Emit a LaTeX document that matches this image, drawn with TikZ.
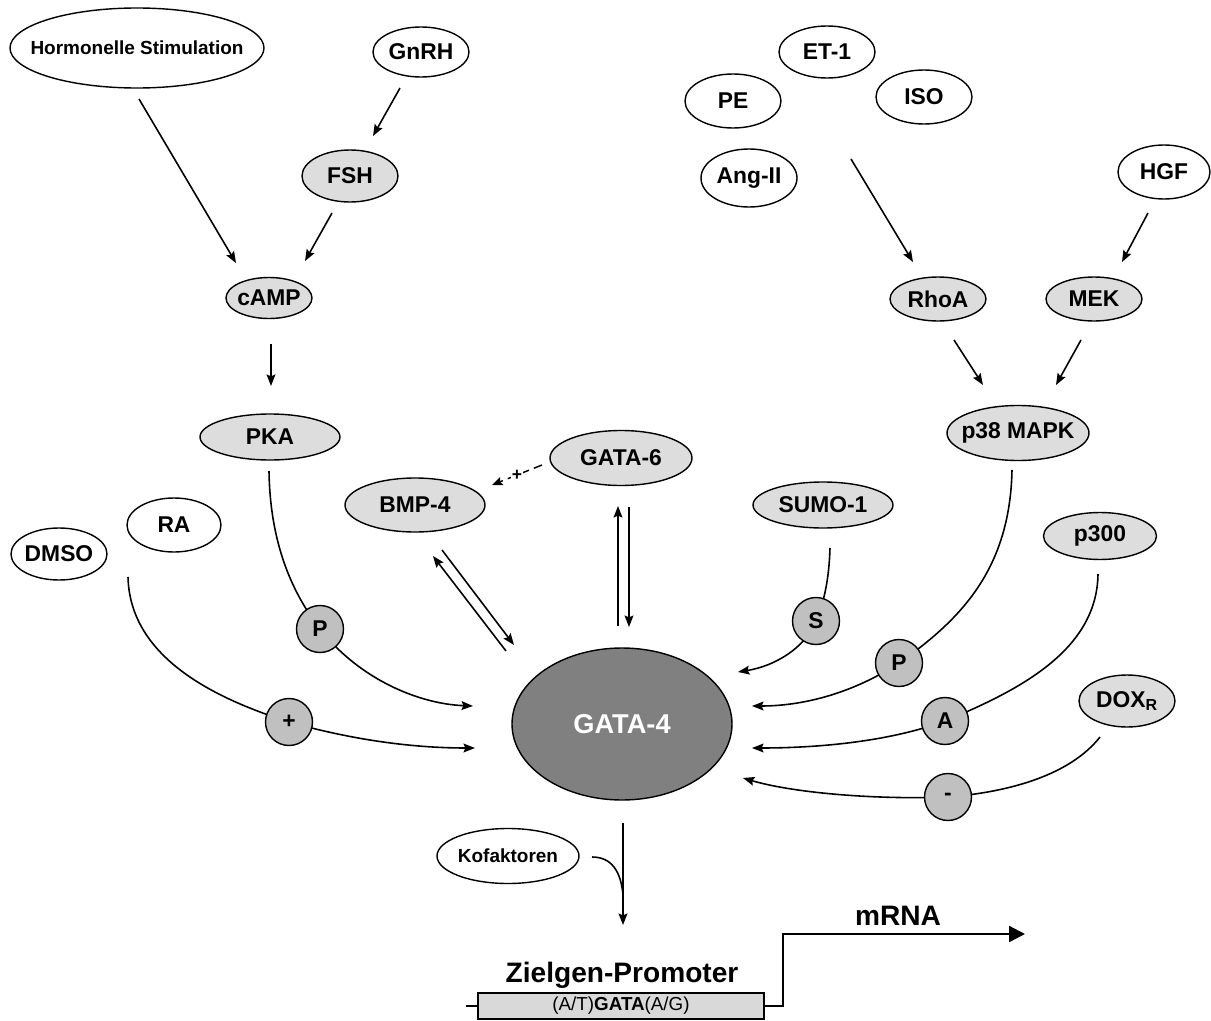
\documentclass[tikz,border=0pt]{standalone}
\usepackage{fontspec}
\setmainfont{Liberation Sans}
\usetikzlibrary{shapes.geometric,arrows.meta}
\definecolor{lightg}{HTML}{DDDDDD}
\definecolor{modg}{HTML}{C0C0C0}
\definecolor{gatag}{HTML}{808080}
\definecolor{boxg}{HTML}{D9D9D9}
\pgfdeclarelayer{background}
\pgfsetlayers{background,main}
\newcommand{\mkz}[1]{\makebox[0pt]{#1}}
\begin{document}
\begin{tikzpicture}[x=0.02cm,y=-0.02cm,
  el/.style 2 args={ellipse, draw, line width=0.8pt, inner sep=0pt,
    minimum width=#1*0.02cm, minimum height=#2*0.02cm,
    font=\fontsize{13}{15}\selectfont\bfseries},
  wel/.style 2 args={el={#1}{#2}, fill=white},
  gel/.style 2 args={el={#1}{#2}, fill=lightg},
  modc/.style={circle, draw, line width=0.8pt, fill=modg, minimum size=47*0.02cm,
    inner sep=0pt, font=\fontsize{13}{15}\selectfont\bfseries},
  arr/.style={line width=0.9pt, -{Stealth[length=6.5pt,width=5pt,inset=1pt]}},
  conn/.style={line width=0.9pt},
]
\useasboundingbox (0,0) rectangle (1211,1021);

% ---- nodes ----
\node[wel={254}{80}, font=\fontsize{10.8}{12}\selectfont\bfseries] (horm) at (137,48) {\mkz{Hormonelle Stimulation}};
\node[wel={96}{50}] (gnrh) at (421,52) {\mkz{GnRH}};
\node[gel={96}{52}] (fsh) at (350,176) {\mkz{FSH}};
\node[gel={86}{41}] (camp) at (269,298) {\mkz{cAMP}};
\node[gel={140}{46}] (pka) at (270,437) {\mkz{PKA}};
\node[wel={94}{54}] (ra) at (174,525) {\mkz{RA}};
\node[wel={96}{52}] (dmso) at (59,554) {\mkz{DMSO}};
\node[gel={140}{54}] (bmp) at (415,505) {\mkz{BMP-4}};
\node[gel={142}{55}] (gata6) at (621,458) {\mkz{GATA-6}};
\node[gel={140}{46}] (sumo) at (823,505) {\mkz{SUMO-1}};
\node[gel={142}{55}] (p38) at (1018,433) {\mkz{p38 MAPK}};
\node[gel={113}{47}] (p300) at (1100,536) {\mkz{p300}};
\node[gel={96}{52}] (dox) at (1127,701) {\mkz{DOX\textsubscript{R}}};
\node[wel={96}{52}] (et1) at (827,52) {\mkz{ET-1}};
\node[wel={96}{54}] (pe) at (733,101) {\mkz{PE}};
\node[wel={96}{54}] (iso) at (924,97) {\mkz{ISO}};
\node[wel={96}{58}] (ang) at (749,178) {\mkz{Ang-II}};
\node[wel={92}{54}] (hgf) at (1164,172) {\mkz{HGF}};
\node[gel={96}{44}] (rhoa) at (938,299) {\mkz{RhoA}};
\node[gel={96}{44}] (mek) at (1094,299) {\mkz{MEK}};
\node[ellipse, draw, line width=0.8pt, fill=gatag, inner sep=0pt,
  minimum width=220*0.02cm, minimum height=152*0.02cm, text=white,
  font=\fontsize{15.5}{18}\selectfont\bfseries] (gata4) at (622,724) {\mkz{GATA-4}};
\node[wel={142}{55}, font=\fontsize{10.8}{12}\selectfont\bfseries] (kof) at (508,856) {\mkz{Kofaktoren}};

\node[modc] (pl) at (320,629) {P};
\node[modc] (plus) at (289,722) {+};
\node[modc] (s) at (816,621) {S};
\node[modc] (pr) at (899,663) {P};
\node[modc] (a) at (945,721) {A};
\node[modc] (minus) at (948,797) {-};

\node[draw, fill=boxg, line width=0.8pt, inner sep=0pt,
  minimum width=286*0.02cm, minimum height=26*0.02cm,
  font=\fontsize{10.7}{12}\selectfont] (box) at (621,1006) {(A/T)\textbf{GATA}(A/G)};
\node[anchor=base, font=\fontsize{16}{19}\selectfont\bfseries] (zp) at (622,982) {Zielgen-Promoter};
\node[anchor=base, font=\fontsize{16}{19}\selectfont\bfseries] (mrna) at (898,925) {mRNA};

% ---- connector end points ----
\coordinate (h1) at (139,99);   \coordinate (h2) at (236,263);
\coordinate (g1) at (400,88);   \coordinate (g2) at (373,136);
\coordinate (f1) at (332,213);  \coordinate (f2) at (305,261);
\coordinate (c1) at (271,344);  \coordinate (c2) at (271,386);
\coordinate (e1) at (851,159);  \coordinate (e2) at (913,262);
\coordinate (hg1) at (1148,213); \coordinate (hg2) at (1122,262);
\coordinate (r1) at (954,340);  \coordinate (r2) at (983,385);
\coordinate (m1) at (1081,340); \coordinate (m2) at (1056,385);
\coordinate (d1) at (542,465);  \coordinate (d2) at (492,485);
\coordinate (b1) at (442,550);  \coordinate (b2) at (514,645);
\coordinate (b3) at (506,651);  \coordinate (b4) at (433,556);
\coordinate (v1) at (618,626);  \coordinate (v2) at (618,506);
\coordinate (v3) at (629,507);  \coordinate (v4) at (629,627);
\coordinate (pkaS) at (269,471); \coordinate (tipPL) at (473,706);
\coordinate (raS) at (128,577);  \coordinate (tipPlus) at (475,748);
\coordinate (sumoS) at (830,548); \coordinate (tipS) at (738,672);
\coordinate (p38S) at (1012,470); \coordinate (tipPR) at (752,706);
\coordinate (p300S) at (1098,574); \coordinate (tipA) at (752,748);
\coordinate (doxS) at (1100,737); \coordinate (tipM) at (743,778);
\coordinate (gS) at (623,823);  \coordinate (gE) at (623,925);
\coordinate (kofS) at (592,857); \coordinate (merge) at (623,895);
\coordinate (lineL) at (466,1006);
\coordinate (st1) at (783,1006); \coordinate (st2) at (783,934);
\coordinate (mtip) at (1025,934);

% ---- connectors ----
\draw[arr] (h1) -- (h2);
\draw[arr] (g1) -- (g2);
\draw[arr] (f1) -- (f2);
\draw[arr] (c1) -- (c2);
\draw[arr] (e1) -- (e2);
\draw[arr] (hg1) -- (hg2);
\draw[arr] (r1) -- (r2);
\draw[arr] (m1) -- (m2);
\draw[line width=0.8pt, dash pattern=on 5pt off 3pt, -{Stealth[length=6pt,width=5pt,inset=1pt]}]
  (d1) -- node[fill=white, inner sep=0.6pt, font=\fontsize{10}{12}\selectfont\bfseries] {+} (d2);
\draw[arr] (b1) -- (b2);
\draw[arr] (b3) -- (b4);
\draw[arr] (v1) -- (v2);
\draw[arr] (v3) -- (v4);

\begin{pgfonlayer}{background}
\draw[arr] (pkaS) .. controls (270,540) and (290,590) .. (pl.center)
  .. controls (360,680) and (420,704) .. (tipPL);
\draw[arr] (raS) .. controls (130,660) and (220,700) .. (plus.center)
  .. controls (360,742) and (420,748) .. (tipPlus);
\draw[arr] (sumoS) .. controls (829,580) and (824,602) .. (s.center)
  .. controls (805,648) and (775,666) .. (tipS);
\draw[arr] (p38S) .. controls (1010,570) and (960,620) .. (pr.center)
  .. controls (850,695) and (800,706) .. (tipPR);
\draw[arr] (p300S) .. controls (1097,650) and (1020,690) .. (a.center)
  .. controls (880,745) and (800,748) .. (tipA);
\draw[arr] (doxS) .. controls (1070,775) and (1010,792) .. (minus.center)
  .. controls (870,800) and (790,792) .. (tipM);
\end{pgfonlayer}

\draw[arr] (gS) -- (gE);
\draw[conn] (kofS) .. controls (612,857) and (621,872) .. (merge);
\draw[conn] (lineL) -- (box.west);
\draw[line width=1.3pt, -{Triangle[length=9pt,width=9pt]}] (box.east) -- (st1) -- (st2) -- (mtip);
\end{tikzpicture}
\end{document}
